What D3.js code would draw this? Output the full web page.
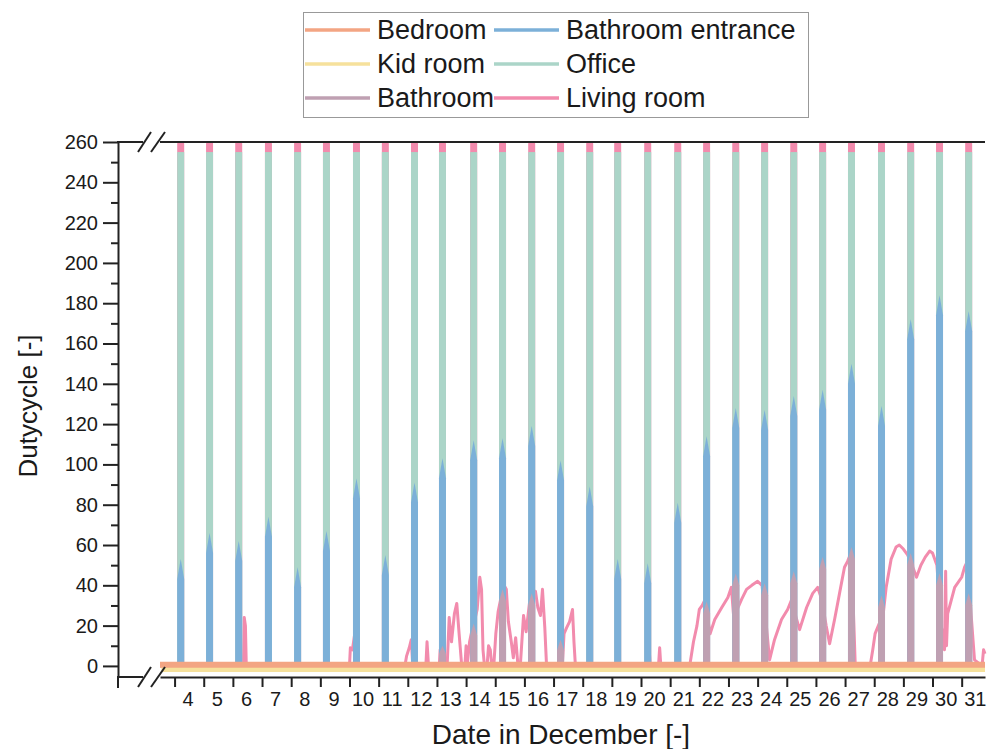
<!DOCTYPE html>
<html>
<head>
<meta charset="utf-8">
<script src="https://cdn.jsdelivr.net/npm/d3@7"></script>
<style>
  body { margin: 0; background: #fff; }
  svg { display: block; font-family: "Liberation Sans", Arial, sans-serif; }
</style>
</head>
<body>
<svg id="chart" width="988" height="749"></svg>
<script>
// tick labels (days of December)
const days = [4, 5, 6, 7, 8, 9, 10, 11, 12, 13, 14, 15, 16, 17, 18, 19, 20, 21, 22, 23, 24, 25, 26, 27, 28, 29, 30, 31];
const yTicks = [0, 20, 40, 60, 80, 100, 120, 140, 160, 180, 200, 220, 240, 260];

// time of the daily spike (day + fraction)
const spikeTime = [4.21, 5.20, 6.20, 7.22, 8.22, 9.21, 10.24, 11.23, 12.23, 13.19, 14.26, 15.25, 16.25, 17.24,
                   18.24, 19.20, 20.23, 21.26, 22.25, 23.25, 24.24, 25.24, 26.23, 27.22, 28.25, 29.25, 30.24, 31.24];

// peak values per daily spike
const officePeak   = [255, 255, 255, 255, 255, 255, 255, 255, 255, 255, 255, 255, 255, 255,
                      255, 255, 255, 255, 255, 255, 255, 255, 255, 255, 255, 255, 255, 255];
const livingPeak   = [259, 259, 259, 259, 259, 259, 259, 259, 259, 259, 259, 259, 259, 259,
                      259, 259, 259, 259, 259, 259, 259, 259, 259, 259, 259, 259, 259, 259];
const entrancePeak = [53, 66, 62, 74, 49, 67, 93, 55, 91, 103, 112, 113, 119, 102,
                      89, 53, 51, 81, 114, 128, 127, 134, 137, 150, 129, 172, 184, 176];
const bathroomPeak = [0, 0, 0, 0, 0, 0, 0, 0, 0, 10, 21, 38, 36, 13,
                      0, 0, 0, 0, 32, 46, 41, 47, 54, 59, 35, 56, 46, 36];

// living room trace between spikes [day, value]
const livingRoom = [
  [3.5, 0], [6.36, 0], [6.39, 24], [6.43, 20], [6.46, 0],
  [10.0, 0], [10.03, 9], [10.1, 8], [10.2, 18], [10.27, 0],
  [11.9, 0], [11.96, 5], [12.05, 9], [12.12, 13], [12.17, 0],
  [12.62, 0], [12.66, 12], [12.71, 0],
  [13.08, 0], [13.11, 8], [13.14, 0],
  [13.35, 0], [13.42, 24], [13.5, 12], [13.6, 26], [13.68, 31], [13.76, 16], [13.85, 0],
  [13.96, 0], [14.0, 10], [14.05, 2], [14.12, 12], [14.22, 19], [14.3, 23], [14.38, 28], [14.47, 44], [14.53, 38], [14.58, 8], [14.63, 0],
  [14.72, 0], [14.77, 10], [14.83, 8], [14.88, 0],
  [14.95, 0], [15.02, 16], [15.1, 27], [15.2, 34], [15.3, 40], [15.38, 38], [15.45, 22], [15.55, 12], [15.62, 4], [15.7, 14], [15.78, 0],
  [15.86, 0], [15.97, 25], [16.06, 17], [16.18, 32], [16.3, 35], [16.38, 37], [16.46, 29], [16.55, 25], [16.62, 38], [16.7, 19], [16.76, 0],
  [17.3, 0], [17.36, 16], [17.45, 19], [17.55, 22], [17.65, 28], [17.7, 12], [17.75, 0],
  [20.25, 0], [20.28, 8], [20.32, 0], [20.6, 0], [20.64, 9], [20.68, 0],
  [21.67, 0], [21.8, 12], [21.92, 20], [22.0, 28], [22.1, 30], [22.2, 33], [22.28, 24], [22.37, 16], [22.53, 23], [22.77, 29],
  [22.98, 34], [23.1, 39], [23.17, 26], [23.3, 28], [23.45, 33], [23.62, 38], [23.8, 40], [24.0, 42], [24.15, 40], [24.3, 20], [24.41, 3],
  [24.58, 13], [24.82, 23], [25.03, 28], [25.2, 34], [25.3, 25], [25.44, 18], [25.68, 29], [25.89, 36], [26.06, 39], [26.2, 33],
  [26.35, 20], [26.47, 11], [26.64, 23], [26.81, 36], [26.98, 49], [27.09, 52], [27.2, 56], [27.28, 30], [27.35, 0],
  [27.86, 0], [27.95, 8], [28.03, 16], [28.2, 22], [28.31, 26], [28.41, 39], [28.58, 53], [28.75, 59], [28.86, 60], [29.0, 58],
  [29.15, 55], [29.3, 50], [29.45, 44], [29.6, 50], [29.75, 54], [29.9, 57], [30.0, 56], [30.15, 50], [30.3, 20], [30.41, 8],
  [30.45, 47], [30.48, 10], [30.52, 26], [30.76, 39], [31.0, 44], [31.1, 49], [31.2, 52], [31.3, 30], [31.44, 3], [31.7, 0],
  [31.75, 8], [31.8, 6]
];
const bedroom = [[3.5, 0.6], [31.8, 0.6]];
const kidRoom = [[3.55, -1.8], [31.8, -1.8]];

const seriesNames = ["Bedroom", "Kid room", "Bathroom", "Bathroom entrance", "Office", "Living room"];
const colors = {
  "Bedroom": "#f3a583",
  "Kid room": "#f6e19c",
  "Bathroom": "#bfa0b2",
  "Bathroom entrance": "#7cb0d8",
  "Office": "#abd5c8",
  "Living room": "#f28bad"
};

const svg = d3.select("#chart");

const x = d3.scaleLinear().domain([3.5, 31.8]).range([160, 985]);
const y = d3.scaleLinear().domain([-5.5, 260]).range([677, 142]);

svg.append("defs").append("clipPath").attr("id", "plot")
  .append("rect").attr("x", 118).attr("y", 142).attr("width", 870).attr("height", 535);

const plot = svg.append("g").attr("clip-path", "url(#plot)");

function spike(t, v, halfW, tip) {
  const x0 = x(t), y0 = y(0), yt = y(v);
  const tp = Math.min(tip, (y0 - yt) * 0.4);
  return `M${x0 - halfW},${y0}V${yt + tp}L${x0},${yt}L${x0 + halfW},${yt + tp}V${y0}Z`;
}

// living room spikes (clipped at the top)
plot.selectAll("line.lr").data(spikeTime).join("line")
  .attr("x1", d => x(d)).attr("x2", d => x(d))
  .attr("y1", y(0)).attr("y2", (d, i) => y(livingPeak[i]))
  .attr("stroke", colors["Living room"]).attr("stroke-width", 7)
  .attr("stroke-linecap", "round");

// living room trace
plot.append("path")
  .datum(livingRoom)
  .attr("fill", "none")
  .attr("stroke", colors["Living room"])
  .attr("stroke-width", 3)
  .attr("stroke-linejoin", "round")
  .attr("d", d3.line().x(d => x(d[0])).y(d => y(d[1])));

plot.selectAll("rect.office").data(spikeTime).join("rect")
  .attr("x", d => x(d) - 3.5).attr("width", 7)
  .attr("y", (d, i) => y(officePeak[i]))
  .attr("height", (d, i) => y(0) - y(officePeak[i]))
  .attr("fill", colors["Office"]);

plot.selectAll("path.entrance").data(spikeTime).join("path")
  .attr("d", (d, i) => spike(d, entrancePeak[i], 3.5, 20))
  .attr("fill", colors["Bathroom entrance"]);

plot.selectAll("path.bath").data(spikeTime.filter((d, i) => bathroomPeak[i] > 0)).join("path")
  .attr("d", d => spike(d, bathroomPeak[spikeTime.indexOf(d)], 3.5, 12))
  .attr("fill", colors["Bathroom"]);

const flat = d3.line().x(d => x(d[0])).y(d => y(d[1]));
plot.append("path").datum(kidRoom)
  .attr("fill", "none").attr("stroke", colors["Kid room"]).attr("stroke-width", 5)
  .attr("d", flat);
plot.append("path").datum(bedroom)
  .attr("fill", "none").attr("stroke", colors["Bedroom"]).attr("stroke-width", 6)
  .attr("d", flat);

// y axis
svg.append("g").attr("transform", "translate(118,0)")
  .call(d3.axisLeft(y).tickValues(yTicks).tickSize(15).tickSizeOuter(0).tickPadding(5));
svg.append("g").attr("transform", "translate(118,0)")
  .call(d3.axisLeft(y).tickValues(yTicks.slice(0, -1).map(v => v + 10)).tickSize(7).tickFormat(""))
  .select(".domain").remove();

// x axis
const xAxis = svg.append("g").attr("transform", "translate(0,677)")
  .call(d3.axisBottom(x).tickValues(days).tickSize(10).tickSizeOuter(0).tickPadding(5));
xAxis.selectAll(".tick text").attr("dx", x(4.45) - x(4));

svg.selectAll(".tick text").attr("font-size", 20).attr("fill", "#1a1a1a")
  .attr("font-family", "'Liberation Sans', Arial, sans-serif");
svg.selectAll(".domain, .tick line").attr("stroke", "#222").attr("stroke-width", 2);

// remaining axis pieces and breaks
const frame = svg.append("g").attr("stroke", "#222").attr("stroke-width", 2).attr("fill", "none");
frame.append("line").attr("x1", 117).attr("x2", 143).attr("y1", 677).attr("y2", 677);
frame.append("line").attr("x1", 118).attr("x2", 118).attr("y1", 677).attr("y2", 688);
frame.append("line").attr("x1", 117).attr("x2", 143).attr("y1", 142).attr("y2", 142);
frame.append("line").attr("x1", 160).attr("x2", 985).attr("y1", 142).attr("y2", 142);
[142, 677].forEach(yy => {
  frame.append("line").attr("x1", 138).attr("y1", yy + 10).attr("x2", 151).attr("y2", yy - 10);
  frame.append("line").attr("x1", 151).attr("y1", yy + 10).attr("x2", 165).attr("y2", yy - 10);
});

// axis titles
svg.append("text")
  .attr("transform", "translate(37,406) rotate(-90)")
  .attr("text-anchor", "middle")
  .attr("font-size", 26).attr("fill", "#1a1a1a")
  .text("Dutycycle [-]");
svg.append("text")
  .attr("x", 561).attr("y", 744)
  .attr("text-anchor", "middle")
  .attr("font-size", 28).attr("fill", "#1a1a1a")
  .text("Date in December [-]");

// legend
const legend = svg.append("g");
legend.append("rect").attr("x", 303.5).attr("y", 12.5).attr("width", 505).attr("height", 105)
  .attr("fill", "#fff").attr("stroke", "#999").attr("stroke-width", 1);
const rowY = [39, 73, 107];
seriesNames.forEach((name, i) => {
  const col = Math.floor(i / 3), row = i % 3;
  const lx = col === 0 ? 305 : 494;
  legend.append("line")
    .attr("x1", lx).attr("x2", lx + 65)
    .attr("y1", rowY[row] - 9).attr("y2", rowY[row] - 9)
    .attr("stroke", colors[name]).attr("stroke-width", 3.5);
  legend.append("text")
    .attr("x", lx + 72).attr("y", rowY[row])
    .attr("font-size", 27).attr("fill", "#1a1a1a")
    .text(name);
});
</script>
</body>
</html>
